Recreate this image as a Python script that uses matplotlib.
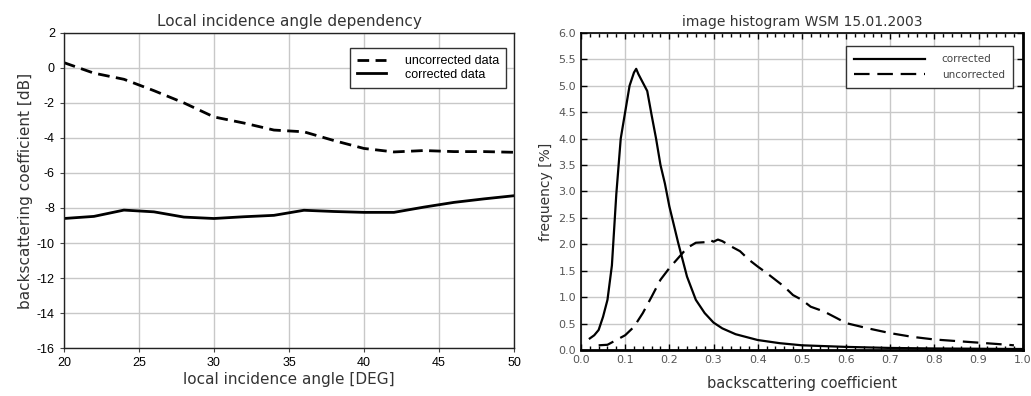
import matplotlib
matplotlib.use("Agg")
import matplotlib.pyplot as plt
from matplotlib.ticker import MultipleLocator, FormatStrFormatter

plt.rcParams['font.family'] = ['DejaVu Sans']
plt.rcParams['axes.unicode_minus'] = False

# Left panel: backscatter vs local incidence angle
angle_deg = [20, 22, 24, 26, 28, 30, 32, 34, 36, 38, 40, 42, 44, 46, 48, 50]
uncorrected_db = [0.3, -0.3, -0.65, -1.3, -2.0, -2.8, -3.15, -3.55, -3.65, -4.15, -4.6, -4.8,
                  -4.72, -4.78, -4.78, -4.82]
corrected_db = [-8.6, -8.48, -8.12, -8.22, -8.52, -8.6, -8.5, -8.42, -8.13, -8.2, -8.25, -8.25,
                -7.95, -7.68, -7.48, -7.3]

# Right panel: image histograms
corr_x = [0.02, 0.03, 0.04, 0.05, 0.06, 0.07, 0.08, 0.09, 0.10, 0.11, 0.12, 0.125, 0.13, 0.14,
          0.15, 0.16, 0.17, 0.18, 0.19, 0.20, 0.22, 0.24, 0.26, 0.28, 0.30, 0.32, 0.35, 0.40,
          0.45, 0.50, 0.55, 0.60, 0.70, 0.80, 0.90, 1.00]
corr_y = [0.22, 0.28, 0.38, 0.63, 0.95, 1.6, 2.95, 4.0, 4.5, 5.0, 5.25, 5.32, 5.22, 5.06,
          4.9, 4.44, 4.0, 3.5, 3.15, 2.72, 2.03, 1.39, 0.95, 0.70, 0.52, 0.41, 0.30, 0.19,
          0.13, 0.09, 0.075, 0.06, 0.04, 0.03, 0.025, 0.02]

uncorr_x = [0.04, 0.06, 0.08, 0.10, 0.12, 0.14, 0.16, 0.18, 0.20, 0.22, 0.24, 0.26, 0.28,
            0.29, 0.30, 0.31, 0.32, 0.34, 0.36, 0.38, 0.40, 0.42, 0.44, 0.46, 0.48, 0.50,
            0.52, 0.55, 0.58, 0.60, 0.65, 0.70, 0.75, 0.80, 0.85, 0.90, 0.95, 0.98]
uncorr_y = [0.09, 0.10, 0.19, 0.28, 0.44, 0.70, 1.01, 1.33, 1.55, 1.74, 1.93, 2.03, 2.04,
            2.09, 2.05, 2.09, 2.06, 1.96, 1.87, 1.71, 1.58, 1.46, 1.33, 1.20, 1.04, 0.95,
            0.82, 0.73, 0.60, 0.51, 0.41, 0.32, 0.25, 0.20, 0.17, 0.14, 0.11, 0.09]

ARIAL = ['Liberation Sans', 'DejaVu Sans']
GEO = ['DejaVu Sans']

fig = plt.figure(figsize=(10.31, 3.96), dpi=100)

# ---------------- left panel ----------------
ax1 = fig.add_axes([0.062, 0.121, 0.4365, 0.796])
ax1.plot(angle_deg, uncorrected_db, color='black', lw=2.0, dashes=(4.2, 2.3),
         label='uncorrected data')
ax1.plot(angle_deg, corrected_db, color='black', lw=2.0, label='corrected data')
ax1.set_xlim(20, 50)
ax1.set_ylim(-16, 2)
ax1.xaxis.set_major_locator(MultipleLocator(5))
ax1.yaxis.set_major_locator(MultipleLocator(2))
ax1.grid(True, color='#c8c8c8', lw=1.0)
ax1.set_axisbelow(True)
ax1.tick_params(direction='out', length=3, width=0.8, labelsize=9, colors='#444444',
                labelcolor='black')
for lbl in ax1.get_xticklabels() + ax1.get_yticklabels():
    lbl.set_family(ARIAL)
for s in ax1.spines.values():
    s.set_color('#222222')
    s.set_linewidth(1.0)
ax1.set_title('Local incidence angle dependency', fontsize=11, color='#333333', pad=5,
              family=GEO)
ax1.set_xlabel('local incidence angle [DEG]', fontsize=11, color='#333333', labelpad=2,
               family=GEO)
ax1.set_ylabel('backscattering coefficient [dB]', fontsize=11, color='#333333', labelpad=3,
               family=GEO)
leg1 = ax1.legend(loc='upper right', frameon=True, fancybox=False,
                  prop={'family': ARIAL, 'size': 9},
                  edgecolor='#333333', framealpha=1, handlelength=2.3, handletextpad=1.5,
                  borderpad=0.6, labelspacing=0.1, bbox_to_anchor=(0.997, 0.972))
leg1.get_frame().set_linewidth(1.0)

# ---------------- right panel ----------------
ax2 = fig.add_axes([0.5635, 0.116, 0.4285, 0.801])
ax2.plot(corr_x, corr_y, color='black', lw=1.6, label='corrected')
ax2.plot(uncorr_x, uncorr_y, color='black', lw=1.6, dashes=(7, 3.5), label='uncorrected')
ax2.set_xlim(0, 1.0)
ax2.set_ylim(0, 6.0)
ax2.xaxis.set_major_locator(MultipleLocator(0.1))
ax2.xaxis.set_minor_locator(MultipleLocator(0.02))
ax2.yaxis.set_major_locator(MultipleLocator(0.5))
ax2.xaxis.set_major_formatter(FormatStrFormatter('%.1f'))
ax2.yaxis.set_major_formatter(FormatStrFormatter('%.1f'))
ax2.grid(True, which='major', color='#c8c8c8', lw=1.0)
ax2.set_axisbelow(True)
ax2.tick_params(which='both', direction='in', top=True, right=True, colors='black',
                labelsize=8, labelcolor='#555555')
ax2.tick_params(which='major', length=4, width=1.0)
ax2.tick_params(which='minor', length=3, width=1.0)
for s in ax2.spines.values():
    s.set_color('black')
    s.set_linewidth(1.2)
ax2.spines['bottom'].set_linewidth(2.0)
ax2.spines['right'].set_linewidth(2.0)
ax2.set_title('image histogram WSM 15.01.2003', fontsize=10, color='#333333', pad=5)
ax2.set_xlabel('backscattering coefficient', fontsize=10.5, color='#333333', labelpad=8)
ax2.set_ylabel('frequency [%]', fontsize=10, color='#333333', labelpad=4)
leg2 = ax2.legend(loc='upper right', frameon=True, fancybox=False,
                  prop={'size': 7.5},
                  edgecolor='#333333', framealpha=1, handlelength=6.8, handletextpad=1.6,
                  borderpad=0.8, labelspacing=0.55, bbox_to_anchor=(0.99, 0.975))
leg2.get_frame().set_linewidth(1.0)
for t in leg2.get_texts():
    t.set_color('#444444')

fig.savefig('out.png', dpi=100)
